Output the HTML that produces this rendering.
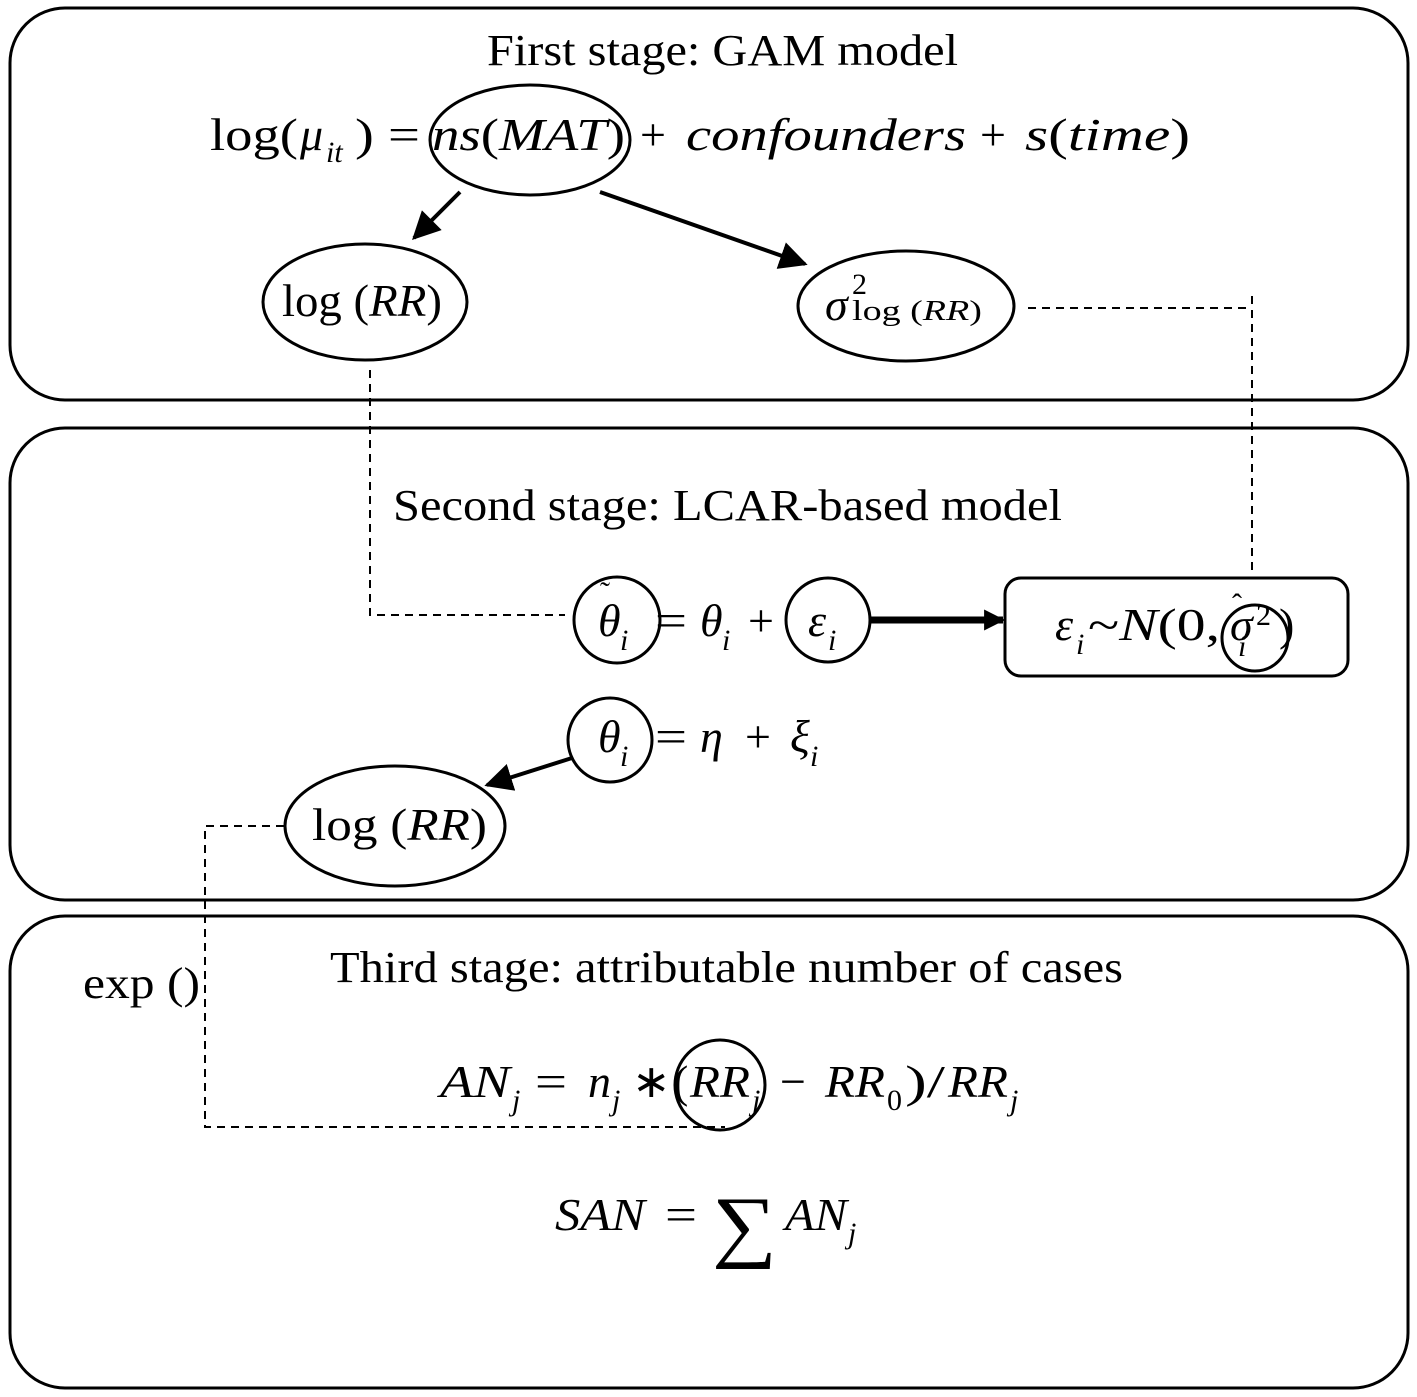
<!DOCTYPE html>
<html><head><meta charset="utf-8"><style>
html,body{margin:0;padding:0;background:#fff}
svg{display:block}
text{font-family:"Liberation Serif",serif;fill:#000}
.m{font-style:italic}
</style></head><body>
<svg width="1417" height="1397" viewBox="0 0 1417 1397" xmlns="http://www.w3.org/2000/svg">
<defs>
<marker id="a" viewBox="0 0 10 10" refX="9" refY="5" markerWidth="7" markerHeight="7" orient="auto"><path d="M0,0L10,5L0,10z" fill="#000"/></marker>
<marker id="b" viewBox="0 0 10 10" refX="9" refY="5" markerWidth="3" markerHeight="3" orient="auto"><path d="M0,0L10,5L0,10z" fill="#000"/></marker>
</defs>
<g fill="none" stroke="#000" stroke-width="3">
<rect x="10" y="8" width="1398" height="392" rx="55"/>
<rect x="10" y="428" width="1398" height="472" rx="55"/>
<rect x="10" y="916" width="1398" height="472" rx="55"/>
<ellipse cx="530" cy="140" rx="100" ry="55"/>
<ellipse cx="365" cy="302" rx="102" ry="58"/>
<ellipse cx="906" cy="306" rx="108" ry="55"/>
<circle cx="617" cy="620" r="43"/>
<circle cx="828" cy="620" r="42"/>
<rect x="1005" y="578" width="343" height="98" rx="16"/>
<circle cx="1255" cy="638" r="33"/>
<circle cx="610" cy="740" r="42"/>
<ellipse cx="395" cy="826" rx="110" ry="60"/>
<circle cx="720" cy="1085" r="45"/>
</g>
<g stroke="#000" stroke-width="4" fill="none">
<line x1="460" y1="192" x2="414" y2="238" marker-end="url(#a)"/>
<line x1="600" y1="192" x2="805" y2="264" marker-end="url(#a)"/>
<line x1="572" y1="758" x2="487" y2="785" marker-end="url(#a)"/>
<line x1="870" y1="620" x2="1003" y2="620" stroke-width="7" marker-end="url(#b)"/>
</g>
<g stroke="#000" stroke-width="2" fill="none" stroke-dasharray="8,6">
<polyline points="1028,308 1252,308"/>
<polyline points="1252,296 1252,575"/>
<polyline points="370,370 370,615 565,615"/>
<polyline points="284,826 205,826 205,1127 725,1127"/>
</g>
<g font-size="44">
<text x="487" y="65" textLength="471" lengthAdjust="spacingAndGlyphs">First stage: GAM model</text>
<text x="393" y="520" textLength="669" lengthAdjust="spacingAndGlyphs">Second stage: LCAR-based model</text>
<text x="330" y="982" textLength="793" lengthAdjust="spacingAndGlyphs">Third stage: attributable number of cases</text>
<text x="83" y="998" textLength="117" lengthAdjust="spacingAndGlyphs">exp ()</text>
</g>
<g font-size="46">
<!-- line 1 -->
<text x="210" y="150" textLength="88" lengthAdjust="spacingAndGlyphs">log(</text>
<text x="300" y="150" class="m">μ</text>
<text x="326" y="162" font-size="30" class="m">it</text>
<text x="355" y="150" textLength="65" lengthAdjust="spacingAndGlyphs">) =</text>
<text x="432" y="150" textLength="193" lengthAdjust="spacingAndGlyphs"><tspan class="m">ns</tspan>(<tspan class="m">MAT</tspan>)</text>
<text x="640" y="150">+</text>
<text x="686" y="150" class="m" textLength="280" lengthAdjust="spacingAndGlyphs">confounders</text>
<text x="980" y="150">+</text>
<text x="1025" y="150" textLength="165" lengthAdjust="spacingAndGlyphs"><tspan class="m">s</tspan>(<tspan class="m">time</tspan>)</text>
<!-- ellipses -->
<text x="282" y="316" textLength="160" lengthAdjust="spacingAndGlyphs">log (<tspan class="m">RR</tspan>)</text>
<text x="825" y="320" class="m">σ</text>
<text x="852" y="294" font-size="30">2</text>
<text x="852" y="320" font-size="28" textLength="130" lengthAdjust="spacingAndGlyphs">log (<tspan class="m">RR</tspan>)</text>
<text x="312" y="840" textLength="175" lengthAdjust="spacingAndGlyphs">log (<tspan class="m">RR</tspan>)</text>
<!-- row theta tilde -->
<text x="598" y="636" class="m">θ</text>
<text x="600" y="602" font-size="30">˜</text>
<text x="620" y="650" font-size="30" class="m">i</text>
<text x="655" y="636" textLength="32" lengthAdjust="spacingAndGlyphs">=</text>
<text x="700" y="636" class="m">θ</text>
<text x="722" y="650" font-size="30" class="m">i</text>
<text x="748" y="636">+</text>
<text x="808" y="636" class="m">ε</text>
<text x="828" y="650" font-size="30" class="m">i</text>
<!-- box -->
<text x="1055" y="640" class="m">ε</text>
<text x="1076" y="654" font-size="30" class="m">i</text>
<text x="1088" y="640" textLength="132" lengthAdjust="spacingAndGlyphs">~<tspan class="m">N</tspan>(0,</text>
<text x="1230" y="640" class="m">σ</text>
<text x="1232" y="614" font-size="30">ˆ</text>
<text x="1238" y="656" font-size="30" class="m">i</text>
<text x="1256" y="625" font-size="30">2</text>
<text x="1279" y="640">)</text>
<!-- theta row -->
<text x="598" y="752" class="m">θ</text>
<text x="620" y="766" font-size="30" class="m">i</text>
<text x="655" y="752" textLength="32" lengthAdjust="spacingAndGlyphs">=</text>
<text x="700" y="752" class="m">η</text>
<text x="745" y="752">+</text>
<text x="790" y="752" class="m">ξ</text>
<text x="810" y="766" font-size="30" class="m">i</text>
<!-- AN -->
<text x="440" y="1097" class="m" textLength="70" lengthAdjust="spacingAndGlyphs">AN</text>
<text x="512" y="1110" font-size="30" class="m">j</text>
<text x="535" y="1097" textLength="32" lengthAdjust="spacingAndGlyphs">=</text>
<text x="588" y="1097" class="m">n</text>
<text x="612" y="1110" font-size="30" class="m">j</text>
<text x="632" y="1097">∗</text>
<text x="673" y="1097">(</text>
<text x="690" y="1097" class="m" textLength="60" lengthAdjust="spacingAndGlyphs">RR</text>
<text x="752" y="1110" font-size="30" class="m">j</text>
<text x="780" y="1097">−</text>
<text x="825" y="1097" class="m" textLength="60" lengthAdjust="spacingAndGlyphs">RR</text>
<text x="887" y="1110" font-size="30">0</text>
<text x="905" y="1097" textLength="40" lengthAdjust="spacingAndGlyphs">)/</text>
<text x="948" y="1097" class="m" textLength="60" lengthAdjust="spacingAndGlyphs">RR</text>
<text x="1010" y="1110" font-size="30" class="m">j</text>
<!-- SAN -->
<text x="555" y="1230" class="m" textLength="90" lengthAdjust="spacingAndGlyphs">SAN</text>
<text x="665" y="1230" textLength="32" lengthAdjust="spacingAndGlyphs">=</text>
<text x="712" y="1252" font-size="80" textLength="65" lengthAdjust="spacingAndGlyphs">∑</text>
<text x="785" y="1230" class="m" textLength="62" lengthAdjust="spacingAndGlyphs">AN</text>
<text x="848" y="1243" font-size="30" class="m">j</text>
</g>
</svg>
</body></html>
